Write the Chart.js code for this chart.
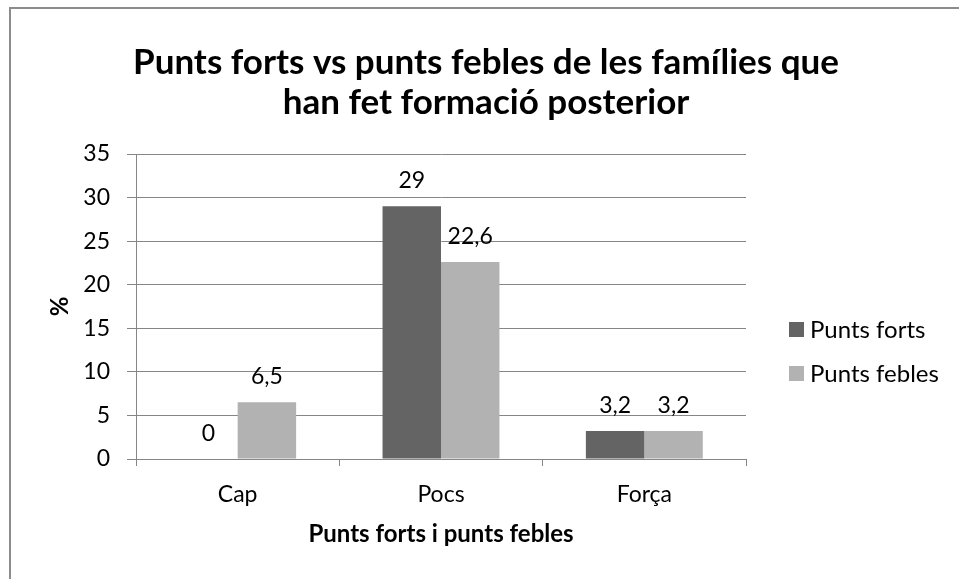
<!DOCTYPE html>
<html>
<head>
<meta charset="utf-8">
<script src="https://cdn.jsdelivr.net/npm/chart.js@4.4.1/dist/chart.umd.min.js"></script>
<style>
  body { margin: 0; background: #fff; }
  #grafica { display: block; }
</style>
</head>
<body>
<canvas id="grafica" width="959" height="579"></canvas>
<script>
// dades de la gràfica
const categories = ["Cap", "Pocs", "Força"];
const puntsForts = [0, 29, 3.2];
const puntsFebles = [6.5, 22.6, 3.2];
const nomsSeries = ["Punts forts", "Punts febles"];
const colorsSeries = ["#646464", "#b2b2b2"];
const titol = ["Punts forts vs punts febles de les famílies que", "han fet formació posterior"];
const titolX = "Punts forts i punts febles";
const titolY = "%";

const FONT = "Lato";
const GRIS = "#868686";

// 6.5 -> "6,5"
const ambComa = (v) => String(v).replace(".", ",");

// títol, llegenda, marc i etiquetes de valor
const extres = {
  id: "extres",
  afterDatasetsDraw(chart) {
    const ctx = chart.ctx;
    ctx.save();
    ctx.fillStyle = "#000";
    ctx.font = "23px " + FONT;
    ctx.textAlign = "center";
    ctx.textBaseline = "alphabetic";
    chart.data.datasets.forEach((ds, i) => {
      chart.getDatasetMeta(i).data.forEach((barra, j) => {
        ctx.fillText(ambComa(ds.data[j]), barra.x, barra.y - 18);
      });
    });
    ctx.restore();
  },
  afterDraw(chart) {
    const ctx = chart.ctx;
    ctx.save();
    // marc exterior
    ctx.strokeStyle = "#8c8c8c";
    ctx.lineWidth = 2;
    ctx.strokeRect(10, 8, 1200, 1200);

    // títol
    ctx.fillStyle = "#000";
    ctx.font = "bold 35px " + FONT;
    ctx.textAlign = "center";
    ctx.textBaseline = "middle";
    titol.forEach((linia, i) => ctx.fillText(linia, 486, 63 + i * 40));

    // llegenda
    ctx.font = "24px " + FONT;
    ctx.textAlign = "left";
    chart.data.datasets.forEach((ds, i) => {
      const y = 329 + i * 44;
      ctx.fillStyle = ds.backgroundColor;
      ctx.fillRect(789, y - 7, 15, 15);
      ctx.fillStyle = "#000";
      ctx.fillText(ds.label, 810, y + 1);
    });
    ctx.restore();
  }
};

new Chart(document.getElementById("grafica"), {
  type: "bar",
  data: {
    labels: categories,
    datasets: [
      { label: nomsSeries[0], data: puntsForts, backgroundColor: colorsSeries[0] },
      { label: nomsSeries[1], data: puntsFebles, backgroundColor: colorsSeries[1] }
    ]
  },
  options: {
    responsive: false,
    animation: false,
    events: [],
    layout: { padding: { left: 10, top: 154, right: 213, bottom: 0 } },
    datasets: {
      bar: { categoryPercentage: 0.575, barPercentage: 1 }
    },
    plugins: {
      legend: { display: false },
      title: { display: false },
      tooltip: { enabled: false }
    },
    scales: {
      x: {
        afterFit(scale) { scale.height = 120; },
        grid: { offset: true, drawOnChartArea: false, color: GRIS, tickLength: 7 },
        border: { color: GRIS },
        ticks: { color: "#000", padding: 15, font: { family: FONT, size: 23 } },
        title: {
          display: true, text: titolX, color: "#000",
          padding: { top: 0, bottom: 30 },
          font: { family: FONT, size: 24, weight: "bold" }
        }
      },
      y: {
        min: 0, max: 35,
        afterFit(scale) { scale.width = 126; },
        grid: { color: GRIS, tickLength: 9 },
        border: { color: GRIS },
        ticks: { stepSize: 5, color: "#000", padding: 17, font: { family: FONT, size: 23 } },
        title: {
          display: true, text: titolY, color: "#000",
          padding: { top: 36, bottom: 0 },
          font: { family: FONT, size: 24, weight: "bold" }
        }
      }
    }
  },
  plugins: [extres]
});
</script>
</body>
</html>
